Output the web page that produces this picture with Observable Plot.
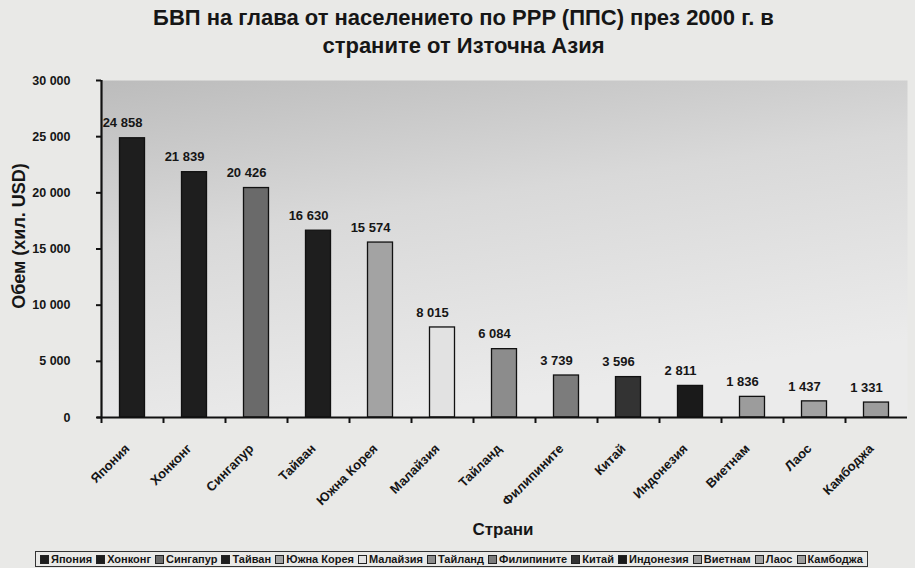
<!DOCTYPE html>
<html><head><meta charset="utf-8">
<script src="https://cdn.jsdelivr.net/npm/d3@7"></script>
<script src="https://cdn.jsdelivr.net/npm/@observablehq/plot@0.6"></script>
<style>
body{margin:0;background:#e9e9e7;font-family:"Liberation Sans",Arial,sans-serif;color:#161616;}
#wrap{position:relative;width:915px;height:568px;overflow:hidden;}
#title{position:absolute;left:6px;top:4px;width:915px;text-align:center;font-weight:bold;font-size:22px;line-height:28px;}
#chart{position:absolute;left:0;top:64px;}
#ytitle{position:absolute;left:19px;top:236px;transform:translate(-50%,-50%) rotate(-90deg);font-weight:bold;font-size:18px;white-space:nowrap;}
#xtitle{position:absolute;left:503px;top:530px;transform:translate(-50%,-50%);font-weight:bold;font-size:17px;white-space:nowrap;}
#legend{position:absolute;left:35px;top:551px;width:833px;height:16px;border:1px solid #333;display:flex;justify-content:space-between;align-items:center;padding:0 4px;box-sizing:border-box;font-size:11px;font-weight:bold;}
.item{display:flex;align-items:center;white-space:nowrap;}
.sw{width:7px;height:7px;border:1px solid #222;margin-right:2px;}
</style></head><body>
<div id="wrap">
<div id="title">БВП на глава от населението по PPP (ППС) през 2000 г. в<br>страните от Източна Азия</div>
<div id="chart"></div>
<div id="ytitle">Обем (хил. USD)</div>
<div id="xtitle">Страни</div>
<div id="legend"></div>
</div>
<script>
const countries = ["Япония","Хонконг","Сингапур","Тайван","Южна Корея","Малайзия","Тайланд","Филипините","Китай","Индонезия","Виетнам","Лаос","Камбоджа"];
const gdpPerCapita = [24858,21839,20426,16630,15574,8015,6084,3739,3596,2811,1836,1437,1331];
const yTicks = [0,5000,10000,15000,20000,25000,30000];
const barColors = ["#1e1e1e","#1e1e1e","#6a6a6a","#1e1e1e","#a3a3a3","#e2e2e2","#8c8c8c","#7c7c7c","#333333","#1a1a1a","#9c9c9c","#a2a2a2","#9c9c9c"];

const data = countries.map((c,i)=>({country:c, value:gdpPerCapita[i]}));
const fmt = d => d3.format(",")(d).replace(/,/g," ");

const W = 915, H = 484, mL = 101, mR = 8, mT = 16, mB = 131;
const plotH = H - mT - mB;
const bw = (W - mL - mR) / countries.length;
const inset = (bw - 25) / 2;

const chart = Plot.plot({
  width: W, height: H,
  marginLeft: mL, marginRight: mR, marginTop: mT, marginBottom: mB,
  style: {background:"transparent", fontFamily:"'Liberation Sans', Arial, sans-serif", color:"#161616"},
  x: {type:"band", domain: countries, padding: 0, label: null},
  y: {domain:[0,30000], label: null},
  color: {type:"ordinal", domain: countries, range: barColors},
  marks: [
    Plot.frame({fill:"url(#bgGrad)", stroke:null}),
    Plot.barY(data, {x:"country", y:"value", fill:"country", stroke:"#111", strokeWidth:1.3, insetLeft: inset, insetRight: inset}),
    Plot.text(data, {x:"country", y:"value", text: d=>fmt(d.value), dy:-15, dx:-10, fontSize:13, fontWeight:"bold", fill:"#161616"}),
    Plot.tickX(countries, {x: d => d, dx: -bw/2, stroke:"#111", strokeWidth:2, insetTop: plotH, insetBottom: -6}),
    Plot.ruleY([0], {stroke:"#111", strokeWidth:2.2, insetLeft:-4}),
    Plot.ruleX([countries[0]], {dx:-bw/2, stroke:"#111", strokeWidth:2.2}),
    Plot.axisY({ticks: yTicks, tickSize:5, tickPadding:26, tickFormat: fmt, fontSize:12.5, fontWeight:"bold", label:null, stroke:"#111", strokeWidth:2}),
    Plot.axisX({tickSize:0, tickPadding:29, tickRotate:-45, fontSize:13, fontWeight:"bold", label:null, dx:-5})
  ]
});
const defs = d3.select(chart).insert("defs", ":first-child");
const g = defs.append("linearGradient").attr("id","bgGrad").attr("x1","0").attr("y1","0").attr("x2","0.35").attr("y2","1");
g.append("stop").attr("offset","0").attr("stop-color","#bcbcbc");
g.append("stop").attr("offset","0.45").attr("stop-color","#d9d9d9");
g.append("stop").attr("offset","1").attr("stop-color","#ebebeb");
document.getElementById("chart").appendChild(chart);

const legend = document.getElementById("legend");
countries.forEach((c,i)=>{
  const it = document.createElement("div"); it.className="item";
  const sw = document.createElement("span"); sw.className="sw"; sw.style.background = barColors[i];
  const t = document.createElement("span"); t.textContent = c;
  it.appendChild(sw); it.appendChild(t); legend.appendChild(it);
});
</script>
</body></html>
